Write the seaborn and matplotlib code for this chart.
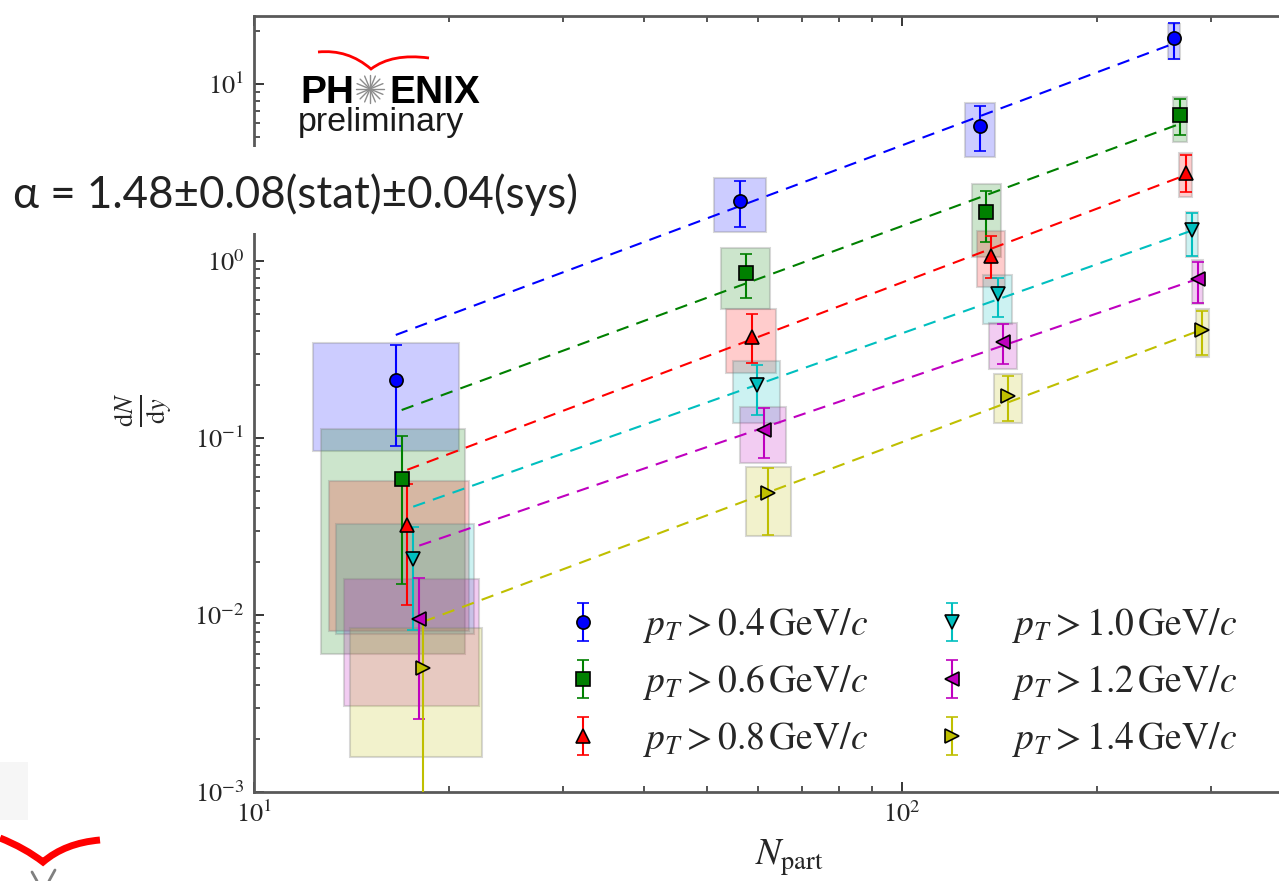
import numpy as np
import pandas as pd
import matplotlib
matplotlib.use("Agg")
import matplotlib.pyplot as plt
import seaborn as sns
from matplotlib.patches import Rectangle, PathPatch
from matplotlib.path import Path
from matplotlib.transforms import Affine2D
from matplotlib.colors import to_rgba
from matplotlib.ticker import NullFormatter

# ---------------------------------------------------------------- data
series_labels = [
    r"$p_T > 0.4\,\mathrm{GeV}/c$",
    r"$p_T > 0.6\,\mathrm{GeV}/c$",
    r"$p_T > 0.8\,\mathrm{GeV}/c$",
    r"$p_T > 1.0\,\mathrm{GeV}/c$",
    r"$p_T > 1.2\,\mathrm{GeV}/c$",
    r"$p_T > 1.4\,\mathrm{GeV}/c$",
]

# N_part of each centrality point (slightly offset per pT cut)
npart = [
    [16.55, 56.2, 131.9, 263.0],
    [16.9, 57.4, 134.6, 268.7],
    [17.24, 58.6, 137.2, 274.0],
    [17.61, 59.8, 140.5, 280.0],
    [17.99, 61.3, 143.3, 286.7],
    [18.24, 62.2, 145.9, 291.0],
]

# dN/dy central values
dndy = [
    [0.213, 2.19, 5.79, 18.1],
    [0.0587, 0.852, 1.90, 6.68],
    [0.0322, 0.3735, 1.067, 3.13],
    [0.0207, 0.199, 0.651, 1.496],
    [0.00947, 0.111, 0.347, 0.788],
    [0.00504, 0.0487, 0.1734, 0.4075],
]

# statistical error band (upper / lower ends)
stat_hi = [
    [0.335, 2.83, 7.51, 22.2],
    [0.1026, 1.091, 2.49, 8.19],
    [0.0549, 0.50, 1.39, 3.97],
    [0.0316, 0.2585, 0.798, 1.86],
    [0.01626, 0.147, 0.4406, 0.991],
    [0.00938, 0.0675, 0.2249, 0.522],
]
stat_lo = [
    [0.0905, 1.562, 4.20, 13.79],
    [0.01496, 0.616, 1.285, 5.15],
    [0.0114, 0.266, 0.798, 2.46],
    [0.00822, 0.135, 0.4845, 1.067],
    [0.002576, 0.0768, 0.262, 0.5767],
    [0.0004, 0.0283, 0.1253, 0.294],
]

# systematic boxes: N_part range and dN/dy range
sys_npart_lo = [
    [12.35, 51.2, 125.0, 257.6],
    [12.67, 52.5, 128.2, 262.3],
    [13.05, 53.6, 130.6, 268.0],
    [13.38, 54.9, 133.5, 274.3],
    [13.77, 56.2, 136.1, 280.0],
    [14.06, 57.4, 138.8, 284.3],
]
sys_npart_hi = [
    [20.75, 61.6, 139.3, 268.7],
    [21.16, 62.6, 142.2, 275.0],
    [21.47, 63.9, 144.5, 280.7],
    [21.85, 64.8, 147.7, 286.7],
    [22.22, 66.3, 150.3, 291.7],
    [22.5, 67.4, 153.4, 297.8],
]
sys_dndy_lo = [
    [0.0848, 1.464, 3.88, 13.8],
    [0.00602, 0.536, 1.058, 4.72],
    [0.00813, 0.232, 0.71, 2.31],
    [0.00781, 0.122, 0.4406, 1.049],
    [0.00306, 0.0719, 0.2445, 0.5715],
    [0.00158, 0.0279, 0.121, 0.288],
]
sys_dndy_hi = [
    [0.343, 2.955, 7.78, 21.8],
    [0.1125, 1.18, 2.72, 8.48],
    [0.0571, 0.533, 1.477, 4.06],
    [0.0327, 0.272, 0.834, 1.899],
    [0.0159, 0.150, 0.448, 1.013],
    [0.00848, 0.0689, 0.23, 0.533],
]

# power-law fits dN/dy = y100 * (N_part/100)^alpha
fit_alpha = [1.371, 1.346, 1.386, 1.298, 1.254, 1.373]
fit_y100 = [4.50, 1.575, 0.756, 0.390, 0.212, 0.0947]

alpha_text = "α = 1.48±0.08(stat)±0.04(sys)"

# ---------------------------------------------------------------- style
series_colors = [(0, 0, 1), (0, 0.5, 0), (1, 0, 0),
                 (0, 0.75, 0.75), (0.75, 0, 0.75), (0.75, 0.75, 0)]
series_markers = ["o", "s", "^", "v", "<", ">"]

sns.set_theme(style="ticks")
plt.rcParams["font.family"] = ["STIXGeneral", "DejaVu Sans"]
plt.rcParams["mathtext.fontset"] = "stix"

W, H = 1279, 881
fig = plt.figure(figsize=(W / 100, H / 100), dpi=100)
fig.patch.set_facecolor("white")
# pixel transform, origin at the top-left corner of the canvas
pix = Affine2D().scale(1, -1).translate(0, H)

ax = fig.add_axes([254 / W, (H - 792) / H, 1038 / W, 776 / H])
ax.set_facecolor("white")
ax.set_xscale("log")
ax.set_yscale("log")
ax.set_xlim(10, 400)
ax.set_ylim(1e-3, 10 ** (1 + 68 / 177))

# systematic boxes
for s, col in enumerate(series_colors):
    for k in range(len(npart[s])):
        x0, x1 = sys_npart_lo[s][k], sys_npart_hi[s][k]
        y0, y1 = sys_dndy_lo[s][k], sys_dndy_hi[s][k]
        ax.add_patch(Rectangle((x0, y0), x1 - x0, y1 - y0,
                               facecolor=to_rgba(col, 0.2),
                               edgecolor=(0.5, 0.5, 0.5, 0.3),
                               lw=1.5, zorder=1))

# fit lines
fit_rows = []
for s, lab in enumerate(series_labels):
    grid = np.geomspace(npart[s][0], npart[s][-1], 60)
    for n in grid:
        fit_rows.append({"series": lab, "N": n,
                         "fit": fit_y100[s] * (n / 100.0) ** fit_alpha[s]})
fit_df = pd.DataFrame(fit_rows)
sns.lineplot(data=fit_df, x="N", y="fit", hue="series",
             palette=dict(zip(series_labels, series_colors)),
             legend=False, ax=ax, lw=1.5, linestyle=(0, (6.0, 4.0)),
             zorder=2)

# data points with statistical errors
for s, lab in enumerate(series_labels):
    x = np.array(npart[s])
    y = np.array(dndy[s])
    yerr = [y - np.array(stat_lo[s]), np.array(stat_hi[s]) - y]
    ax.errorbar(x, y, yerr=yerr, fmt=series_markers[s], color=series_colors[s],
                mfc=series_colors[s], mec="black", mew=1.2, ms=9.5,
                capsize=4.5, elinewidth=1.5, capthick=1.5, label=lab,
                zorder=3)

# axes decoration
for side in ["left", "bottom", "top"]:
    ax.spines[side].set_color("0.35")
    ax.spines[side].set_linewidth(2.0)
ax.spines["right"].set_visible(False)
ax.tick_params(which="both", direction="in", top=True, right=False,
               color="0.15", labelsize=19)
ax.tick_params(which="major", length=7, width=1.3, pad=7)
ax.tick_params(which="minor", length=4, width=1.1)
ax.xaxis.set_minor_formatter(NullFormatter())
ax.yaxis.set_minor_formatter(NullFormatter())

ax.set_xlabel(r"$N_{\mathrm{part}}$", fontsize=27)
ax.xaxis.set_label_coords(0.516, -0.058)
ax.set_ylabel(r"$\frac{\mathrm{d}N}{\mathrm{d}y}$", fontsize=27)
ax.yaxis.set_label_coords(-0.076, 0.492)

leg = ax.legend(ncol=2, frameon=False, fontsize=27, loc="upper left",
                bbox_to_anchor=(564, 606), bbox_transform=pix,
                borderpad=0, borderaxespad=0, handlelength=1.0,
                handletextpad=1.1, columnspacing=1.75, labelspacing=0.48)

# PHENIX preliminary logo
fig.text(300, 103, "PH", transform=pix, ha="left", va="baseline",
         fontsize=28, fontweight="bold", family="Liberation Sans",
         color="black", zorder=12)
fig.text(389, 103, "ENIX", transform=pix, ha="left", va="baseline",
         fontsize=28, fontweight="bold", family="Liberation Sans",
         color="black", zorder=12)
fig.text(298, 131, "preliminary", transform=pix, ha="left",
         va="baseline", fontsize=24.5, family="Liberation Sans",
         color="#1a1a1a", zorder=12)
cx, cy, r = 370, 89, 14
for ang in np.linspace(0, np.pi, 8, endpoint=False):
    dx, dy = r * np.cos(ang), r * np.sin(ang)
    fig.add_artist(plt.Line2D([cx - dx, cx + dx], [cy - dy, cy + dy],
                              transform=pix, color="0.55", lw=1.0,
                              zorder=12))
arc = Path([(318, 52), (348, 49), (371, 69), (392, 53), (429, 58)],
           [Path.MOVETO, Path.CURVE3, Path.CURVE3, Path.CURVE3, Path.CURVE3])
fig.add_artist(PathPatch(arc, transform=pix, fill=False, edgecolor="red",
                         lw=2.0, zorder=12))

# fit result annotation on a white band
fig.add_artist(Rectangle((0, 147), 600, 86, transform=pix, facecolor="white",
                         edgecolor="none", zorder=10))
fig.text(13, 208, alpha_text, transform=pix, ha="left", va="baseline",
         fontsize=31.6, family="Lato", color="#222222", zorder=11)

# partial logo in the lower-left corner
fig.add_artist(Rectangle((0, 762), 28, 58, transform=pix,
                         facecolor=(0.965, 0.965, 0.965), edgecolor="none",
                         zorder=0))
chev = Path([(0, 838), (25, 848), (43, 862), (65, 843), (100, 840)],
            [Path.MOVETO, Path.CURVE3, Path.CURVE3, Path.CURVE3, Path.CURVE3])
fig.add_artist(PathPatch(chev, transform=pix, fill=False, edgecolor="red",
                         lw=5.0, zorder=12))
fig.add_artist(plt.Line2D([32, 37], [872, 881], transform=pix, color="0.5",
                          lw=2, zorder=12))
fig.add_artist(plt.Line2D([55, 49], [870, 881], transform=pix, color="0.5",
                          lw=2, zorder=12))

fig.savefig("out.png", dpi=100)
